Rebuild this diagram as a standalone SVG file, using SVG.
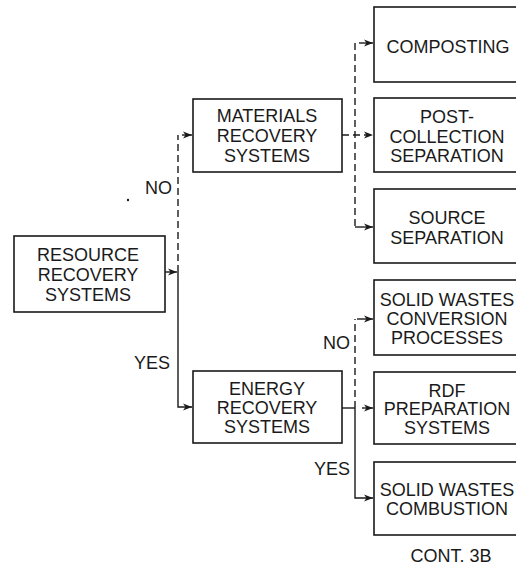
<svg xmlns="http://www.w3.org/2000/svg" width="516" height="565" viewBox="0 0 516 565">
<style>
.box{fill:#fff;stroke:#1a1a1a;stroke-width:1.6}
.t{font-family:"Liberation Sans",Arial,sans-serif;font-size:18px;fill:#1a1a1a;text-anchor:middle}
.l{font-family:"Liberation Sans",Arial,sans-serif;font-size:18px;fill:#1a1a1a;text-anchor:end}
.c{fill:none;stroke:#1a1a1a;stroke-width:1.4}
.d{stroke-dasharray:7 4}
</style>
<defs>
<marker id="ah" markerWidth="10" markerHeight="8" refX="9" refY="4" orient="auto" markerUnits="userSpaceOnUse">
<path d="M0,0.5 L9,4 L0,7.5 L2.5,4 Z" fill="#1a1a1a"/>
</marker>
</defs>
<rect width="516" height="565" fill="#fff"/>
<g id="connectors">
<path class="c" d="M165,272 H177" marker-end="url(#ah)"/>
<path class="c d" d="M178,272 V135"/>
<path class="c" d="M182,135 H192" marker-end="url(#ah)"/>
<path class="c" d="M178,272 V407 H192" marker-end="url(#ah)"/>
<path class="c d" d="M342,135 H373" marker-end="url(#ah)"/>
<path class="c d" d="M355,43 V227"/>
<path class="c" d="M359,43 H373" marker-end="url(#ah)"/>
<path class="c" d="M355,227 H373" marker-end="url(#ah)"/>
<path class="c" d="M342,408 H355"/>
<path class="c" d="M362,408 H373" marker-end="url(#ah)"/>
<path class="c d" d="M355,408 V319"/>
<path class="c" d="M357,319 H373" marker-end="url(#ah)"/>
<path class="c" d="M355,408 V498 H373" marker-end="url(#ah)"/>
</g>
<g id="resource">
<rect class="box" x="14" y="236" width="151" height="76"/>
<text class="t" x="88" y="260.5">RESOURCE</text>
<text class="t" x="88" y="280.5">RECOVERY</text>
<text class="t" x="88" y="300.5">SYSTEMS</text>
</g>
<g id="materials">
<rect class="box" x="193" y="99" width="149" height="73"/>
<text class="t" x="267" y="121.5">MATERIALS</text>
<text class="t" x="267" y="141.5">RECOVERY</text>
<text class="t" x="267" y="161.5">SYSTEMS</text>
</g>
<g id="energy">
<rect class="box" x="193" y="371" width="149" height="72"/>
<text class="t" x="267" y="394.5">ENERGY</text>
<text class="t" x="267" y="413.5">RECOVERY</text>
<text class="t" x="267" y="433">SYSTEMS</text>
</g>
<g id="composting">
<rect class="box" x="374" y="7" width="150" height="75"/>
<text class="t" x="448" y="53">COMPOSTING</text>
</g>
<g id="postcollection">
<rect class="box" x="374" y="98" width="150" height="74"/>
<text class="t" x="447" y="123">POST-</text>
<text class="t" x="447" y="143">COLLECTION</text>
<text class="t" x="447" y="162">SEPARATION</text>
</g>
<g id="source">
<rect class="box" x="374" y="189" width="150" height="74"/>
<text class="t" x="447" y="224">SOURCE</text>
<text class="t" x="447" y="244">SEPARATION</text>
</g>
<g id="conversion">
<rect class="box" x="374" y="280" width="150" height="75"/>
<text class="t" x="447" y="306">SOLID WASTES</text>
<text class="t" x="447" y="325">CONVERSION</text>
<text class="t" x="447" y="344">PROCESSES</text>
</g>
<g id="rdf">
<rect class="box" x="374" y="372" width="150" height="72"/>
<text class="t" x="447" y="396.5">RDF</text>
<text class="t" x="447" y="415">PREPARATION</text>
<text class="t" x="447" y="433.5">SYSTEMS</text>
</g>
<g id="combustion">
<rect class="box" x="374" y="462" width="150" height="73"/>
<text class="t" x="447" y="496">SOLID WASTES</text>
<text class="t" x="447" y="515">COMBUSTION</text>
</g>
<g id="labels">
<text class="l" x="172" y="193.5">NO</text>
<circle cx="128" cy="200" r="1.2" fill="#1a1a1a"/>
<text class="l" x="170" y="368.5">YES</text>
<text class="l" x="350" y="348.5">NO</text>
<text class="l" x="350" y="474.5">YES</text>
<text class="t" x="451" y="562">CONT. 3B</text>
</g>
</svg>
